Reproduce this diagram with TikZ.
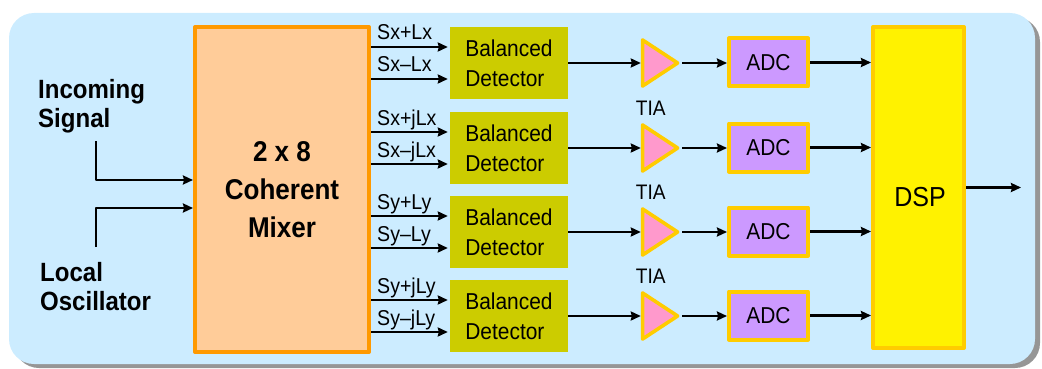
\documentclass[tikz,border=0pt]{standalone}
\usepackage{fontspec}
\setmainfont{Liberation Sans}[FakeStretch=0.91]
\usetikzlibrary{arrows.meta,calc,shapes.geometric}
\definecolor{bgblue}{RGB}{204,236,255}
\definecolor{shadowgray}{RGB}{150,150,150}
\definecolor{mixfill}{RGB}{255,204,153}
\definecolor{mixline}{RGB}{255,153,0}
\definecolor{detfill}{RGB}{204,204,0}
\definecolor{gold}{RGB}{255,204,0}
\definecolor{tiafill}{RGB}{255,153,204}
\definecolor{adcfill}{RGB}{204,153,255}
\tikzset{
  mixer/.style={draw=mixline, fill=mixfill, line width=4pt, minimum width=174pt,
    minimum height=325pt, inner sep=0pt, align=center,
    font=\fontsize{28.6}{38}\selectfont\bfseries},
  detector/.style={fill=detfill, minimum width=118pt, minimum height=72pt,
    inner sep=0pt, align=left, font=\fontsize{23}{30}\selectfont},
  amp/.style={isosceles triangle, isosceles triangle stretches, draw=gold,
    fill=tiafill, line width=3.6pt, minimum width=46pt, minimum height=35pt, inner sep=0pt},
  adc/.style={draw=gold, fill=adcfill, line width=4pt, minimum width=79pt,
    minimum height=48pt, inner sep=0pt, font=\fontsize{23}{24}\selectfont},
  dsp/.style={draw=gold, fill=yellow, line width=4pt, minimum width=91pt,
    minimum height=321pt, inner sep=0pt},
  sig/.style={->, line width=2.4pt},
  chan/.style={anchor=base west, inner sep=0pt, font=\fontsize{21.5}{22}\selectfont},
  tialbl/.style={anchor=base west, inner sep=0pt, font=\fontsize{21}{22}\selectfont},
  inlbl/.style={anchor=west, align=left, inner sep=0pt,
    font=\fontsize{26.4}{29.5}\selectfont\bfseries},
}
\begin{document}
\begin{tikzpicture}[x=1pt, y=-1pt, >={Stealth[length=10pt,width=9pt,inset=1pt]}, line join=round]
  \useasboundingbox (0,0) rectangle (1042,369);
  % panel
  \fill[shadowgray, rounded corners=25pt] (14,17) rectangle (1040,368);
  \fill[bgblue, rounded corners=25pt] (9,13) rectangle (1035,364);
  % inputs and mixer
  \node[inlbl] (insig) at (38,106) {Incoming\\Signal};
  \node[inlbl] (lo) at (40,286.5) {Local\\Oscillator};
  \node[mixer] (mix) at (282,189.5) {2 x 8\\Coherent\\Mixer};
  \coordinate (sigend) at (96,141);
  \coordinate (loend) at (96,247);
  \draw[sig] (sigend) |- ($(mix.west)+(0,-9.5)$);
  \draw[sig] (loend) |- ($(mix.west)+(0,18.5)$);
  % dsp
  \node[dsp] (dsp) at (918.5,187.5) {};
  \node[font=\fontsize{27.5}{27.5}\selectfont] (dsptext) at (920,197) {DSP};
  \coordinate (out) at ($(dsp.east)+(55,0)$);
  \draw[sig] (dsp.east) -- (out);
  % four channels
  \foreach \i/\y/\ta/\tb in {1/63/Sx+Lx/Sx--Lx, 2/148/Sx+jLx/Sx--jLx,
                              3/232/Sy+Ly/Sy--Ly, 4/316/Sy+jLy/Sy--jLy}{
    \node[detector] (bd\i) at (509,\y) {Balanced\\Detector};
    \node[amp] (tia\i) at (655,\y) {};
    \node[adc] (adc\i) at (768.5,\y-0.5) {ADC};
    \coordinate (p\i) at ($(bd\i.west)+(-2,-16)$);
    \coordinate (m\i) at ($(bd\i.west)+(-2,16)$);
    \draw[sig] (mix.east |- p\i) -- (p\i) node[chan, at start, xshift=5pt, yshift=7pt] {\ta};
    \draw[sig] (mix.east |- m\i) -- (m\i) node[chan, at start, xshift=5pt, yshift=7pt] {\tb};
    \draw[sig] (bd\i.east) -- (tia\i.west);
    \draw[sig] (tia\i.apex) -- (tia\i.apex -| adc\i.west);
    \draw[sig] (adc\i.east) -- (adc\i.east -| dsp.west);
  }
  \foreach \i in {2,3,4}
    \node[tialbl] (tl\i) at ($(tia\i.left corner)+(-5,-6)$) {TIA};
\end{tikzpicture}
\end{document}
